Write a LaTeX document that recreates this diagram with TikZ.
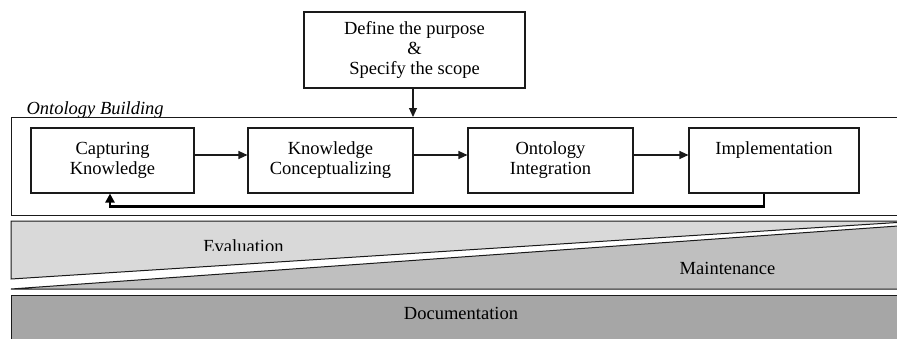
\documentclass[tikz,border=0pt]{standalone}
\usepackage{fontspec}
\setmainfont{Liberation Serif}
\usetikzlibrary{arrows.meta}
\definecolor{evalgray}{HTML}{D9D9D9}
\definecolor{maintgray}{HTML}{BFBFBF}
\definecolor{docgray}{HTML}{A6A6A6}
\definecolor{linec}{HTML}{1A1A1A}
\tikzset{
  txt/.style={font=\fontsize{18.5}{20}\selectfont},
  stepbox/.style={txt, draw=linec, line width=1.1pt, align=center, inner sep=0pt, minimum height=65pt},
  flow/.style={draw=linec, line width=1.1pt, -{Triangle[length=9pt,width=8pt]}},
  feedback/.style={draw=black, line width=2.4pt, -{Triangle[length=9pt,width=9pt]}},
  band/.style={draw=linec, line width=1pt},
}
\begin{document}
\begin{tikzpicture}[x=1pt,y=-1pt]
\useasboundingbox (0,0) rectangle (897,338);
\clip (0,0) rectangle (897,338);

% top box
\node[stepbox, minimum width=221pt, minimum height=76pt] (top) at (414.5,50)
  {Define the purpose\strut\\ \&\strut\\ Specify the scope\strut};

% ontology building frame
\node[draw=linec, line width=1pt, minimum width=899pt, minimum height=98pt, inner sep=0pt, anchor=north west] (frame) at (11,117) {};
\node[txt, font=\fontsize{18.5}{20}\selectfont\itshape, anchor=base west] (obl) at (23,114.5) {Ontology Building};
\draw[draw=linec, line width=1pt] (frame.north west) -- (frame.north east);

\coordinate (ft) at (413,117);
\draw[flow] (top.south -| ft) -- (ft);

% process boxes
\node[stepbox, minimum width=163pt] (cap) at (112.5,160.5) {Capturing\strut\\ Knowledge\strut};
\node[stepbox, minimum width=165pt] (kc) at (330.5,160.5) {Knowledge\strut\\ Conceptualizing\strut};
\node[stepbox, minimum width=165pt] (oi) at (550.5,160.5) {Ontology\strut\\ Integration\strut};
\node[stepbox, minimum width=170pt] (impl) at (774,160.5) {Implementation\strut\\ \strut};

\draw[flow] (cap.east |- 0,155) -- (kc.west |- 0,155);
\draw[flow] (kc.east |- 0,155) -- (oi.west |- 0,155);
\draw[flow] (oi.east |- 0,155) -- (impl.west |- 0,155);

\draw[feedback] ([xshift=-10pt]impl.south) -- ++(0,13) -| ([xshift=-2.5pt]cap.south);

% evaluation band
\path[band, fill=evalgray] (11,221) -- (905,221) -- (905,222) -- (11,279) -- cycle;
\begin{scope}
  \clip (0,225) rectangle (897,250.5);
  \node[txt, anchor=base] (eval) at (243.5,252) {Evaluation};
\end{scope}

% maintenance band
\path[band, fill=maintgray] (11,289) -- (905,225.5) -- (905,289) -- cycle;
\node[txt, anchor=base] (maint) at (727.5,274.5) {Maintenance};

% documentation band
\path[band, fill=docgray] (11,295) rectangle (905,345);
\node[txt, anchor=base] (doc) at (461,319) {Documentation};
\end{tikzpicture}
\end{document}
